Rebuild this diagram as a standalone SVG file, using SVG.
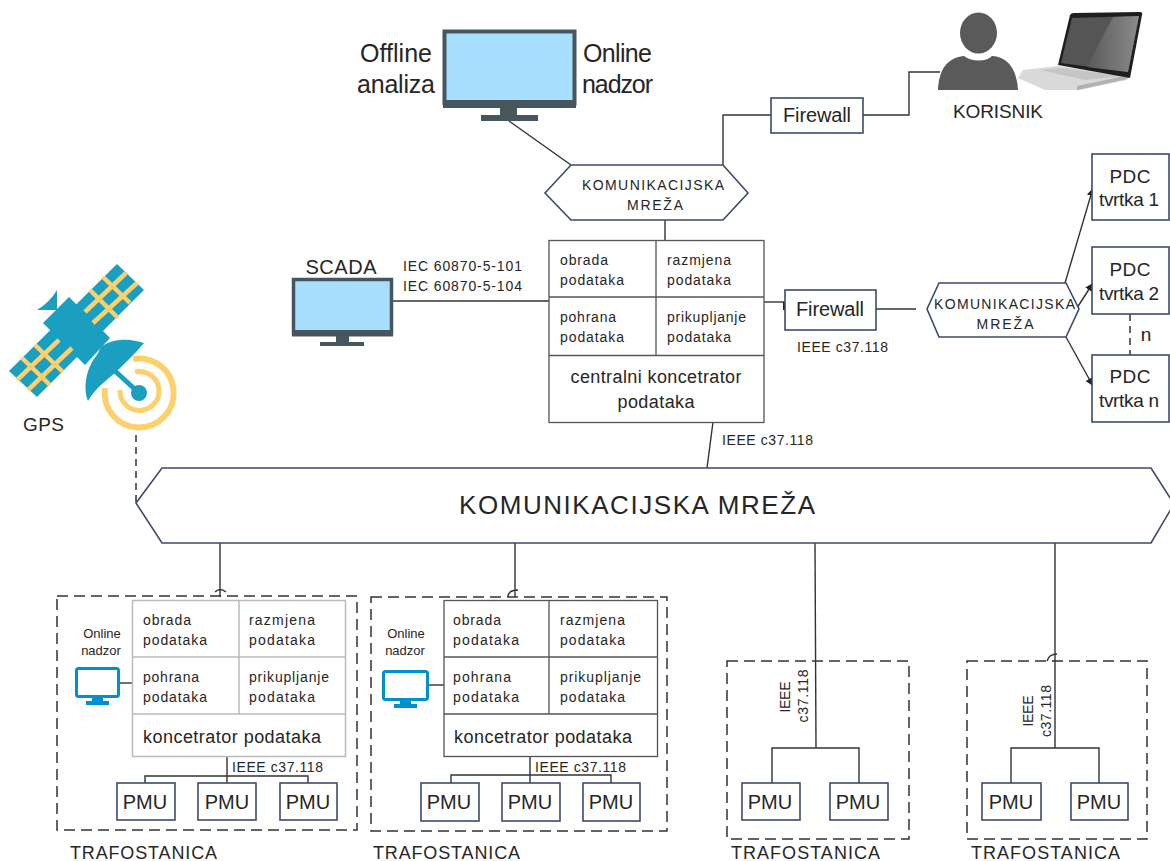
<svg xmlns="http://www.w3.org/2000/svg" width="1170" height="861" viewBox="0 0 1170 861">
<defs>
<style>
text{font-family:"Liberation Sans",Arial,sans-serif;fill:#262626}
.c{text-anchor:middle}
.n{fill:#fff;stroke:#3f4a6b;stroke-width:1.6}
.l{fill:none;stroke:#333;stroke-width:1.4}
.d{fill:none;stroke:#333;stroke-width:1.5;stroke-dasharray:11 6}
.d2{fill:none;stroke:#333;stroke-width:1.5;stroke-dasharray:7 5}
.b{fill:#fff;stroke:#555;stroke-width:1.3}
.g{fill:#fff;stroke:#bbb;stroke-width:1.5}
.gl{stroke:#bbb;stroke-width:1.5;fill:none}
.bl{stroke:#555;stroke-width:1.3;fill:none}
.s{font-size:14px}
.m{font-size:20px}
.p{font-size:19px}
.big{font-size:25px}
.sat{fill:#1b9fc1}
.mon{fill:#a8dfff;stroke:#47555f}
.mf{fill:#47555f}
</style>
<linearGradient id="shine" x1="0" y1="0" x2="1" y2="0"><stop offset="0" stop-color="#5a5a5a"/><stop offset="1" stop-color="#8a8a8a"/></linearGradient>
<marker id="ah" markerWidth="9" markerHeight="9" refX="8" refY="4" orient="auto" markerUnits="userSpaceOnUse"><path d="M0 0L8 4L0 8Z" fill="#222"/></marker>
</defs>
<rect width="1170" height="861" fill="#fff"/>

<g id="connectors">
<path class="l" d="M509 121L571 165"/>
<path class="l" d="M723 165V115H771"/>
<path class="l" d="M863 115H909V72H940"/>
<path class="l" d="M665 220V240"/>
<path class="l" d="M392 301H549"/>
<path class="l" d="M764 302H784"/>
<path d="M784 302V310" fill="none" stroke="#222" stroke-width="2"/>
<path class="l" d="M876 309H916"/>
<path class="l" d="M1065 283L1093 188" marker-end="url(#ah)"/>
<path class="l" d="M1075 311L1093 283" marker-end="url(#ah)"/>
<path class="l" d="M1066 337L1093 386" marker-end="url(#ah)"/>
<path class="d2" d="M1130 314V355"/>
<path class="d2" d="M136 435V504"/>
<path class="l" d="M713 422L707 468"/>
<path class="l" d="M220 543V597M215 592Q220 587 226 592"/>
<path class="l" d="M515 543V597M508 597Q508 590 518 590"/>
<path class="l" d="M815 543L816 748"/>
<path class="l" d="M1055 543V748M1047 661Q1049 654 1057 654"/>
<path class="l" d="M120 683H132"/>
<path class="l" d="M429 685H444"/>
<path class="l" d="M227 757V783M145 783V776H308V783"/>
<path class="l" d="M530 757V783M451 783V775H611V783"/>
<path class="l" d="M772 783V748H859V783"/>
<path class="l" d="M1011 783V748H1099V783"/>
</g>

<g id="monitor-main">
<rect class="mon" x="444.500" y="31.500" width="130" height="72" stroke-width="4"/>
<rect class="mf" x="443" y="100" width="133" height="8"/>
<rect class="mf" x="500" y="108" width="17" height="8"/>
<rect class="mf" x="481" y="115" width="57" height="6"/>
<text class="big c" x="396" y="62" textLength="72">Offline</text>
<text class="big c" x="396" y="93" textLength="78">analiza</text>
<text class="big c" x="617.500" y="62" textLength="69">Online</text>
<text class="big c" x="617.500" y="93" textLength="71">nadzor</text>
</g>

<g id="korisnik">
<path d="M1018 78L1023 70L1058 66L1130 75L1127 80L1080 90L1045 90Z" fill="#d8dada"/>
<path d="M1077 90L1127 79L1129 75L1077 86Z" fill="#b0b2b2"/>
<path d="M1040 70L1062 68L1122 76L1085 80Z" fill="#c4c6c6"/>
<path d="M1070 15Q1071 13 1074 13L1140 12Q1143 12 1142 15L1130 78L1058 65Z" fill="#1f1f1f"/>
<path d="M1072 18L1139 16L1128 72L1061 63Z" fill="#555"/>
<path d="M1113 17L1139 16L1128 72L1087 67Z" fill="url(#shine)"/>
<ellipse cx="978.500" cy="33" rx="18.500" ry="20.500" fill="#5a5a5a"/>
<path d="M938 90C939 72 945 58 964 56C972 62 986 62 992 56C1010 57 1017 72 1018 90Z" fill="#5a5a5a"/>
<text x="998" y="118" class="c p" textLength="90">KORISNIK</text>
</g>

<g id="firewall-1">
<rect class="n" x="771" y="98" width="92" height="35"/>
<text x="817" y="122" class="c m" textLength="68">Firewall</text>
</g>

<g id="mreza-1">
<path class="n" d="M545 193L571 165H723L748 193L723 220H571Z"/>
<text x="653" y="190" class="c s" textLength="142">KOMUNIKACIJSKA</text>
<text x="655" y="210" class="c s" textLength="56">MREŽA</text>
</g>

<g id="scada">
<rect class="mon" x="293.500" y="279.500" width="98" height="54" stroke-width="3.500"/>
<rect class="mf" x="292" y="330" width="101" height="6.500"/>
<rect class="mf" x="336" y="336" width="13" height="7"/>
<rect class="mf" x="320" y="342" width="44" height="4"/>
<text x="341" y="274" class="c m" textLength="71">SCADA</text>
<text x="403" y="271" class="s" textLength="119">IEC 60870-5-101</text>
<text x="403" y="291" class="s" textLength="119">IEC 60870-5-104</text>
</g>

<g id="centralni-koncentrator">
<rect class="b" x="549" y="240.500" width="215" height="182"/>
<path class="bl" d="M656 240.500V355M549 297H764M549 355.500H764"/>
<g class="s">
<text x="560" y="265" textLength="48">obrada</text>
<text x="560" y="285" textLength="64">podataka</text>
<text x="667" y="265" textLength="64">razmjena</text>
<text x="667" y="285" textLength="64">podataka</text>
<text x="560" y="322" textLength="56">pohrana</text>
<text x="560" y="342" textLength="64">podataka</text>
<text x="667" y="322" textLength="79">prikupljanje</text>
<text x="667" y="342" textLength="64">podataka</text>
</g>
<text x="656" y="383" class="c" font-size="18" textLength="171">centralni koncetrator</text>
<text x="656" y="408" class="c" font-size="18" textLength="77">podataka</text>
<text x="722" y="445" class="s" textLength="91">IEEE c37.118</text>
</g>

<g id="firewall-2">
<rect class="n" x="785" y="290" width="91" height="40"/>
<text x="830" y="316" class="c m" textLength="68">Firewall</text>
<text x="797" y="352" class="s" textLength="91">IEEE c37.118</text>
</g>

<g id="mreza-2">
<path class="n" d="M927 309L939 283H1066L1079 309L1066 337H939Z"/>
<text x="1004.500" y="309" class="c s" textLength="141">KOMUNIKACIJSKA</text>
<text x="1005" y="329" class="c s" textLength="57">MREŽA</text>
</g>

<g id="pdc-1">
<rect class="n" x="1092" y="154" width="77" height="66"/>
<text x="1130" y="183" class="c p" textLength="41">PDC</text>
<text x="1129" y="206" class="c p" textLength="60">tvrtka 1</text>
</g>
<g id="pdc-2">
<rect class="n" x="1092" y="247" width="77" height="67"/>
<text x="1130" y="276" class="c p" textLength="41">PDC</text>
<text x="1129" y="300" class="c p" textLength="60">tvrtka 2</text>
</g>
<g id="pdc-n">
<rect class="n" x="1092" y="355" width="77" height="67"/>
<text x="1130" y="383" class="c p" textLength="41">PDC</text>
<text x="1129" y="407" class="c p" textLength="60">tvrtka n</text>
</g>
<text x="1146" y="341" class="c p">n</text>

<g id="gps">
<g class="sat">
<path d="M9 371L37 397L144 290L117 264Z"/>
<path d="M69 297L43 323L85 365L110 338Z"/>
<path d="M57 290V310H37Q50 302 57 290Z"/>
<path d="M144 343C130 338 112 338 101 347L97 355C88 365 82 385 88 401C94 390 104 382 115 373C125 363 136 353 144 343Z"/>
</g>
<g stroke="#fdd06b" stroke-width="4.500" fill="none">
<path d="M85 312L126 273M93 323L137 283M90 290L118 318M103 277L130 303"/>
<path d="M17 380L59 340M28 390L72 348M22 358L50 385M35 345L63 372"/>
<path d="M120 390A19.500 19.500 0 1 0 135 372" stroke-width="5"/>
<path d="M105 388A34.500 34.500 0 1 0 133 359" stroke-width="6"/>
</g>
<path d="M115 371L139 393" stroke="#1b9fc1" stroke-width="5"/>
<circle cx="139" cy="393" r="8" fill="#1b9fc1"/>
<text x="43.500" y="431" class="c p" textLength="41">GPS</text>
</g>

<g id="mreza-glavna">
<path class="n" d="M136 503L162 468H1151L1174 504L1151 543H162Z"/>
<text x="637" y="514" class="c" font-size="26" textLength="356">KOMUNIKACIJSKA MREŽA</text>
</g>

<g id="trafostanica-1">
<rect class="d" x="57" y="596" width="300" height="234"/>
<rect class="g" x="132.500" y="600.500" width="213" height="156"/>
<path class="gl" d="M239 600.500V714M132.500 657H345.500M132.500 714H345.500"/>
<g class="s">
<text x="143" y="625" textLength="48">obrada</text>
<text x="143" y="645" textLength="64">podataka</text>
<text x="249" y="625" textLength="66">razmjena</text>
<text x="249" y="645" textLength="66">podataka</text>
<text x="143" y="682" textLength="56">pohrana</text>
<text x="143" y="702" textLength="64">podataka</text>
<text x="249" y="682" textLength="80">prikupljanje</text>
<text x="249" y="702" textLength="66">podataka</text>
<text x="232" y="772" textLength="91">IEEE c37.118</text>
</g>
<text x="143" y="743" font-size="18" textLength="178">koncetrator podataka</text>
<text x="102" y="638" class="c" font-size="13">Online</text>
<text x="101" y="655" class="c" font-size="13">nadzor</text>
<g id="ikona-1" fill="#0090d0">
<rect x="76.500" y="668.500" width="42" height="28" rx="2" fill="#fff" stroke="#0090d0" stroke-width="3"/>
<rect x="92" y="697" width="11" height="5"/>
<rect x="86" y="701" width="23" height="4"/>
</g>
<rect class="n" x="117" y="783" width="58" height="37"/><text x="145" y="809" class="c m">PMU</text>
<rect class="n" x="198" y="783" width="58" height="37"/><text x="227" y="809" class="c m">PMU</text>
<rect class="n" x="280" y="783" width="57" height="37"/><text x="308" y="809" class="c m">PMU</text>
<text x="70" y="859" font-size="18" textLength="147">TRAFOSTANICA</text>
</g>

<g id="trafostanica-2">
<rect class="d" x="371" y="597" width="296" height="234"/>
<rect class="b" x="444" y="600.500" width="213.500" height="156"/>
<path class="bl" d="M549 600.500V714M444 657H657.500M444 714H657.500"/>
<g class="s">
<text x="453" y="625" textLength="48">obrada</text>
<text x="453" y="645" textLength="66">podataka</text>
<text x="560" y="625" textLength="65">razmjena</text>
<text x="560" y="645" textLength="65">podataka</text>
<text x="453" y="682" textLength="58">pohrana</text>
<text x="453" y="702" textLength="66">podataka</text>
<text x="560" y="682" textLength="81">prikupljanje</text>
<text x="560" y="702" textLength="65">podataka</text>
<text x="535" y="772" textLength="91">IEEE c37.118</text>
</g>
<text x="454" y="743" font-size="18" textLength="178">koncetrator podataka</text>
<text x="406" y="638" class="c" font-size="13">Online</text>
<text x="405" y="655" class="c" font-size="13">nadzor</text>
<g id="ikona-2" fill="#0090d0">
<rect x="383.500" y="671.500" width="44" height="28" rx="2" fill="#fff" stroke="#0090d0" stroke-width="3"/>
<rect x="400" y="700" width="11" height="4"/>
<rect x="394" y="704" width="23" height="4"/>
</g>
<rect class="n" x="421" y="783" width="58" height="38"/><text x="449" y="809" class="c m">PMU</text>
<rect class="n" x="502" y="783" width="58" height="38"/><text x="530" y="809" class="c m">PMU</text>
<rect class="n" x="583" y="783" width="57" height="38"/><text x="611" y="809" class="c m">PMU</text>
<text x="373" y="859" font-size="18" textLength="147">TRAFOSTANICA</text>
</g>

<g id="trafostanica-3">
<rect class="d" x="727" y="661" width="182" height="178"/>
<text transform="translate(790,697) rotate(-90)" class="c s" textLength="31">IEEE</text>
<text transform="translate(808,696) rotate(-90)" class="c s" textLength="53">c37.118</text>
<rect class="n" x="742" y="783" width="58" height="37"/><text x="770" y="809" class="c m">PMU</text>
<rect class="n" x="830" y="783" width="58" height="37"/><text x="858" y="809" class="c m">PMU</text>
<text x="731" y="859" font-size="18" textLength="149">TRAFOSTANICA</text>
</g>

<g id="trafostanica-4">
<rect class="d" x="967" y="661" width="180" height="178"/>
<text transform="translate(1033,711) rotate(-90)" class="c s" textLength="31">IEEE</text>
<text transform="translate(1051,711) rotate(-90)" class="c s" textLength="52">c37.118</text>
<rect class="n" x="982" y="783" width="59" height="37"/><text x="1011" y="809" class="c m">PMU</text>
<rect class="n" x="1071" y="783" width="57" height="37"/><text x="1099" y="809" class="c m">PMU</text>
<text x="971" y="859" font-size="18" textLength="149">TRAFOSTANICA</text>
</g>
</svg>
